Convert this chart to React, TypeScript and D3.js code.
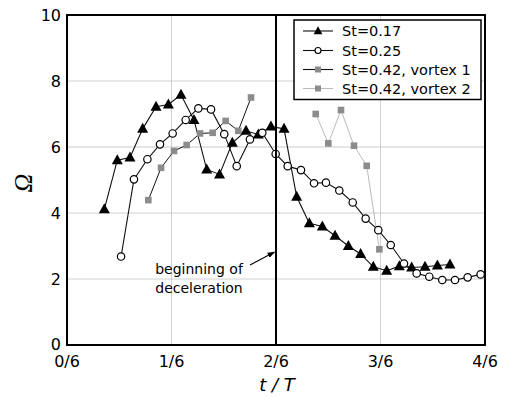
import React from "react";
import * as d3 from "d3";

// t/T values and Omega values
const st017T = [0.0595,0.0802,0.1005,0.1207,0.1420,0.1617,0.1818,0.2025,0.2228,0.2433,0.2637,0.2855,0.3052,0.3253,0.3462,0.3663,0.3865,0.4072,0.4275,0.4487,0.4683,0.4885,0.5098,0.5300,0.5497,0.5710,0.5907,0.6108];
const st017W = [4.11,5.6,5.68,6.55,7.22,7.29,7.58,6.82,5.32,5.17,6.13,6.49,6.38,6.62,6.55,4.49,3.69,3.59,3.31,3.0,2.76,2.37,2.25,2.39,2.35,2.37,2.41,2.44];

const st025T = [0.0862,0.1068,0.1282,0.1483,0.1685,0.1893,0.2095,0.2297,0.2508,0.2707,0.2918,0.3115,0.3328,0.3520,0.3732,0.3940,0.4130,0.4343,0.4557,0.4763,0.4965,0.5163,0.5375,0.5577,0.5778,0.5985,0.6188,0.6390,0.6597];
const st025W = [2.68,5.02,5.63,6.08,6.41,6.82,7.17,7.14,6.39,5.42,6.23,6.43,5.79,5.42,5.30,4.90,4.92,4.68,4.32,3.83,3.48,3.03,2.47,2.17,2.07,1.97,1.97,2.05,2.14];

const v1T = [0.1297,0.1500,0.1707,0.1908,0.2122,0.2323,0.2530,0.2732,0.2935];
const v1W = [4.39,5.37,5.88,6.06,6.41,6.43,6.79,6.49,7.5];

const v2T = [0.3967,0.4168,0.4370,0.4577,0.4780,0.4982];
const v2W = [7.0,6.11,7.12,6.04,5.43,2.90];

const xTicks = [0, 1 / 6, 2 / 6, 3 / 6, 4 / 6];
const xTickLabels = ["0/6", "1/6", "2/6", "3/6", "4/6"];
const yTicks = [0, 2, 4, 6, 8, 10];
const legendLabels = ["St=0.17", "St=0.25", "St=0.42, vortex 1", "St=0.42, vortex 2"];
const decelT = 2 / 6;

const FONT = "DejaVu Sans, sans-serif";
const GRAY = "#8c8c8c";

function zip(a: number[], b: number[]): [number, number][] {
  return a.map((v, i) => [v, b[i]]);
}

const tri = (s: number) => `M0,${-s * 0.6}L${s * 0.55},${s * 0.4}L${-s * 0.55},${s * 0.4}Z`;

export default function App() {
  const x = d3.scaleLinear().domain([0, 4 / 6]).range([67, 485]);
  const y = d3.scaleLinear().domain([0, 10]).range([345, 15]);
  const line = d3
    .line<[number, number]>()
    .x((d) => x(d[0]))
    .y((d) => y(d[1]));

  const s1 = zip(st017T, st017W);
  const s2 = zip(st025T, st025W);
  const s3 = zip(v1T, v1W);
  const s4 = zip(v2T, v2W);

  const legX = 294;
  const legY = 20;
  const rowYs = [31, 50.5, 69.5, 88.5];

  return (
    <svg width={505} height={397} style={{ display: "block", position: "absolute", left: 0, top: 0 }}>
      <rect x={0} y={0} width={505} height={397} fill="white" />
      {/* grid */}
      {yTicks.filter((t) => t > 0 && t < 10).map((t) => (
        <line key={"gy" + t} x1={x(0)} x2={x(4 / 6)} y1={y(t)} y2={y(t)}
          stroke={t === 6 ? "#dcdcdc" : "#c4c4c4"} strokeWidth={t === 6 ? 1.5 : 0.8} />
      ))}
      {xTicks.filter((_, i) => i > 0 && i < 4).map((t, i) => (
        <line key={"gx" + i} x1={x(t)} x2={x(t)} y1={y(0)} y2={y(10)} stroke="#c4c4c4" strokeWidth={0.8} />
      ))}

      {/* series lines */}
      <path d={line(s4) || ""} fill="none" stroke="#a8a8a8" strokeWidth={0.8} />
      <path d={line(s3) || ""} fill="none" stroke="#111" strokeWidth={1} />
      <path d={line(s1) || ""} fill="none" stroke="#111" strokeWidth={1.1} />
      <path d={line(s2) || ""} fill="none" stroke="#111" strokeWidth={1.1} />

      {/* markers */}
      {s4.map((d, i) => (
        <rect key={"m4" + i} x={x(d[0]) - 3.3} y={y(d[1]) - 3.3} width={6.6} height={6.6} fill={GRAY} />
      ))}
      {s3.map((d, i) => (
        <rect key={"m3" + i} x={x(d[0]) - 3.3} y={y(d[1]) - 3.3} width={6.6} height={6.6} fill={GRAY} />
      ))}
      {s1.map((d, i) => (
        <path key={"m1" + i} d={tri(10)} transform={`translate(${x(d[0])},${y(d[1])})`} fill="#000" />
      ))}
      {s2.map((d, i) => (
        <circle key={"m2" + i} cx={x(d[0])} cy={y(d[1])} r={3.7} fill="white" stroke="#000" strokeWidth={1.2} />
      ))}

      {/* deceleration line */}
      <line x1={x(decelT)} x2={x(decelT)} y1={y(0)} y2={y(10)} stroke="#000" strokeWidth={2} />

      {/* frame */}
      <rect x={x(0)} y={y(10)} width={x(4 / 6) - x(0)} height={y(0) - y(10)} fill="none" stroke="#000" strokeWidth={2} />

      {/* y tick labels */}
      {yTicks.map((t) => (
        <text key={"yl" + t} x={61} y={t === 0 ? y(t) - 1 : y(t)} dy="0.36em" textAnchor="end" fontFamily={FONT} fontSize={16} fill="#000">
          {t}
        </text>
      ))}
      {/* x tick labels */}
      {xTicks.map((t, i) => (
        <text key={"xl" + i} x={x(t)} y={366.5} textAnchor="middle" fontFamily={FONT} fontSize={16} fill="#000">
          {xTickLabels[i]}
        </text>
      ))}

      {/* axis titles */}
      <text x={277} y={391} textAnchor="middle" fontFamily={FONT} fontStyle="italic" fontSize={18} fill="#000">
        t / T
      </text>
      <text transform="translate(32,183) rotate(-90)" textAnchor="middle" fontFamily="Liberation Serif, serif" fontStyle="italic" fontSize={26} fill="#000">
        Ω
      </text>

      {/* annotation */}
      <text x={199} y={273.5} textAnchor="middle" fontFamily={FONT} fontSize={14} fill="#000">beginning of</text>
      <text x={199} y={293} textAnchor="middle" fontFamily={FONT} fontSize={14} fill="#000">deceleration</text>
      <defs>
        <marker id="arr" viewBox="0 0 10 10" refX={9} refY={5} markerWidth={7} markerHeight={7} orient="auto">
          <path d="M0,1.5L10,5L0,8.5Z" fill="#000" />
        </marker>
      </defs>
      <line x1={250} y1={265} x2={x(decelT) - 1.5} y2={252} stroke="#000" strokeWidth={1.1} markerEnd="url(#arr)" />

      {/* legend */}
      <rect x={legX} y={legY} width={187} height={79.5} fill="white" stroke="#000" strokeWidth={1.5} />
      {legendLabels.map((lab, i) => {
        const ry = rowYs[i];
        const lx1 = 303, lx2 = 333, mx = 318;
        return (
          <g key={"lg" + i}>
            <line x1={lx1} x2={lx2} y1={ry} y2={ry}
              stroke={i === 3 ? "#a8a8a8" : "#111"} strokeWidth={i === 3 ? 0.8 : 1.1} />
            {i === 0 && <path d={tri(8)} transform={`translate(${mx},${ry})`} fill="#000" />}
            {i === 1 && <circle cx={mx} cy={ry} r={3} fill="white" stroke="#000" strokeWidth={1.1} />}
            {i >= 2 && <rect x={mx - 3} y={ry - 3} width={6} height={6} fill={GRAY} />}
            <text x={342} y={ry} dy="0.36em" fontFamily={FONT} fontSize={14.5} fill="#000">{lab}</text>
          </g>
        );
      })}
    </svg>
  );
}
